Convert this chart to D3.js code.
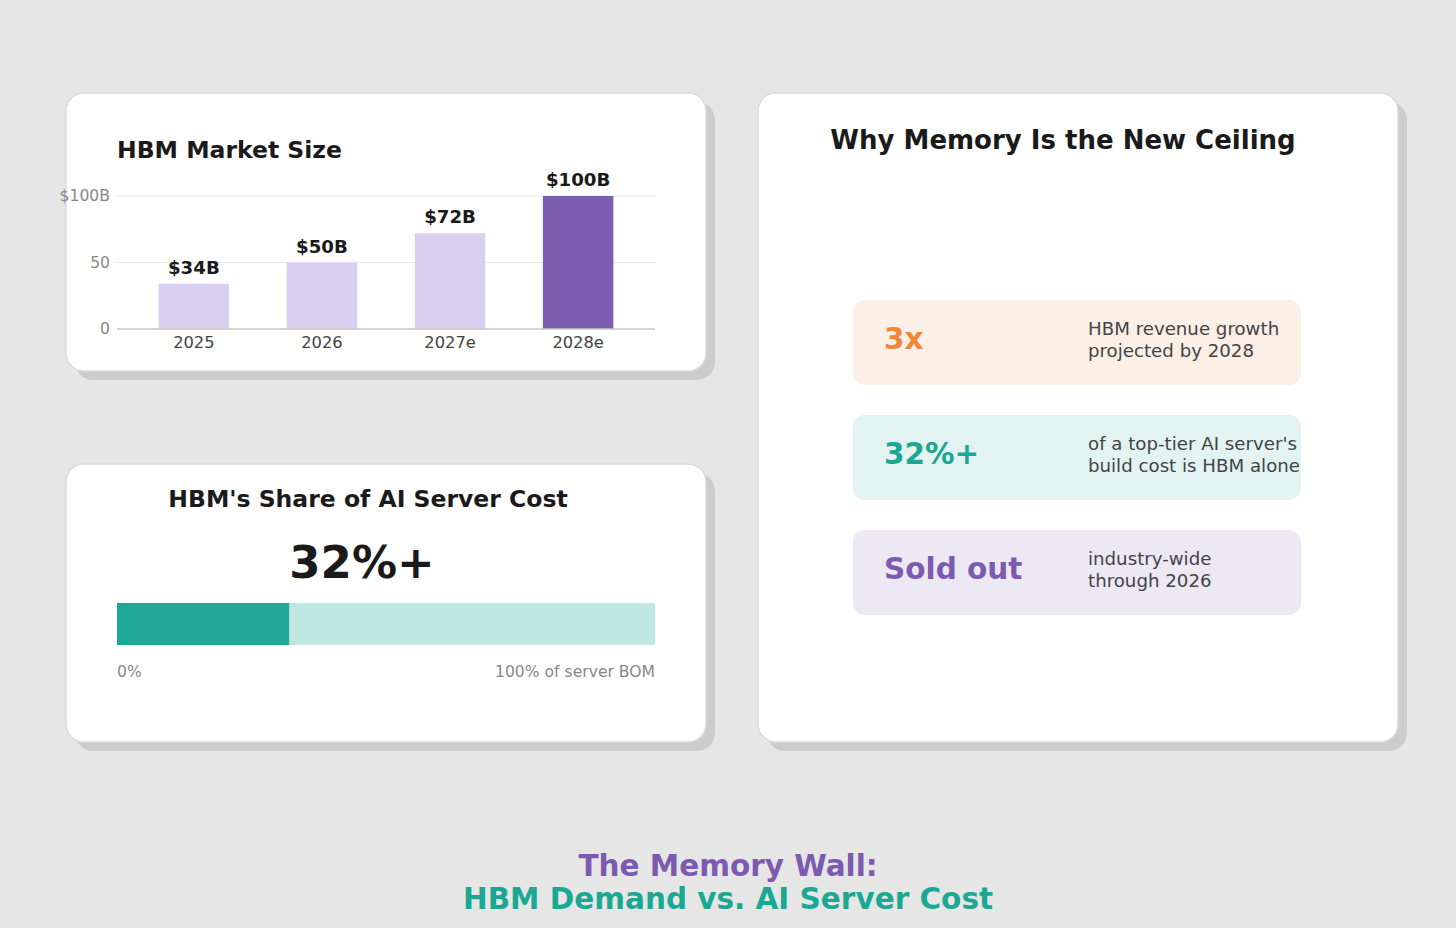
<!DOCTYPE html>
<html>
<head>
<meta charset="utf-8">
<script src="https://cdn.jsdelivr.net/npm/d3@7"></script>
<style>
  html, body { margin: 0; padding: 0; background: #e6e6e6; }
  svg { display: block; font-family: "DejaVu Sans", sans-serif; }
</style>
</head>
<body>
<svg id="chart" width="1456" height="928"></svg>
<script>
// market size chart
const years = ["2025", "2026", "2027e", "2028e"];
const marketSize = [34, 50, 72, 100];
const yTicks = [0, 50, 100];
const yTickLabels = ["0", "50", "$100B"];

// share of server cost
const hbmShare = 32;
const shareLabel = "32%+";
const shareEnds = ["0%", "100% of server BOM"];

// stat boxes
const statValues = ["3x", "32%+", "Sold out"];
const statLines = [
  ["HBM revenue growth", "projected by 2028"],
  ["of a top-tier AI server's", "build cost is HBM alone"],
  ["industry-wide", "through 2026"]
];

const purple = "#7b5eb0", lilac = "#d9cff0", teal = "#1ea895", tealLight = "#bfe8e2";
const statColors = ["#f0883a", "#1aa893", "#7b5aaf"];
const statBg = ["#fcefe6", "#e2f3f1", "#ece8f4"];

const svg = d3.select("#chart");

function card(x, y, w, h) {
  svg.append("rect").attr("x", x + 9).attr("y", y + 9).attr("width", w).attr("height", h)
    .attr("rx", 18).attr("fill", "#cccccc");
  svg.append("rect").attr("x", x).attr("y", y).attr("width", w).attr("height", h)
    .attr("rx", 18).attr("fill", "#fff").attr("stroke", "#dcdcdc").attr("stroke-width", 1.5);
}

card(66, 93, 640, 278);
card(66, 464, 640, 278);
card(758, 93, 640, 649);

// ---- HBM Market Size ----
const g1 = svg.append("g");
g1.append("text").attr("x", 117).attr("y", 158)
  .attr("font-size", 23.5).attr("font-weight", "bold").attr("fill", "#1a1a1a")
  .text("HBM Market Size");

const x = d3.scaleLinear().domain([-0.6, years.length - 0.4]).range([117, 655]);
const y = d3.scaleLinear().domain([0, 100]).range([329, 196]);
const barW = 0.55;

g1.selectAll(".grid").data(yTicks.filter(d => d > 0)).enter().append("line")
  .attr("x1", 117).attr("x2", 655)
  .attr("y1", d => y(d)).attr("y2", d => y(d))
  .attr("stroke", "#e8e8e8").attr("stroke-width", 1.2);

g1.selectAll(".bar").data(marketSize).enter().append("rect")
  .attr("x", (d, i) => x(i - barW / 2))
  .attr("width", x(barW) - x(0))
  .attr("y", d => y(d))
  .attr("height", d => y(0) - y(d))
  .attr("fill", (d, i) => i === marketSize.length - 1 ? purple : lilac);

g1.append("line").attr("x1", 117).attr("x2", 655).attr("y1", y(0)).attr("y2", y(0))
  .attr("stroke", "#c8c8c8").attr("stroke-width", 1.5);

g1.selectAll(".vlab").data(marketSize).enter().append("text")
  .attr("x", (d, i) => x(i)).attr("y", d => y(d) - 10)
  .attr("text-anchor", "middle").attr("font-size", 18.2).attr("font-weight", "bold")
  .attr("fill", "#1a1a1a")
  .text(d => `$${d}B`);

g1.selectAll(".ytl").data(yTicks).enter().append("text")
  .attr("x", 110).attr("y", d => y(d) + 5)
  .attr("text-anchor", "end").attr("font-size", 15.6).attr("fill", "#888")
  .text((d, i) => yTickLabels[i]);

g1.selectAll(".xtl").data(years).enter().append("text")
  .attr("x", (d, i) => x(i)).attr("y", 348)
  .attr("text-anchor", "middle").attr("font-size", 16.3).attr("fill", "#444")
  .text(d => d);

// ---- HBM's Share of AI Server Cost ----
const g2 = svg.append("g");
g2.append("text").attr("x", 368).attr("y", 507)
  .attr("text-anchor", "middle").attr("font-size", 23.5).attr("font-weight", "bold")
  .attr("fill", "#1a1a1a").text("HBM's Share of AI Server Cost");
g2.append("text").attr("x", 362).attr("y", 578)
  .attr("text-anchor", "middle").attr("font-size", 45).attr("font-weight", "bold")
  .attr("fill", "#1a1a1a").text(shareLabel);

const xs = d3.scaleLinear().domain([0, 100]).range([117, 655]);
g2.append("rect").attr("x", xs(0)).attr("y", 603).attr("width", xs(100) - xs(0)).attr("height", 42)
  .attr("fill", tealLight);
g2.append("rect").attr("x", xs(0)).attr("y", 603).attr("width", xs(hbmShare) - xs(0)).attr("height", 42)
  .attr("fill", teal);
g2.append("text").attr("x", xs(0)).attr("y", 677).attr("font-size", 15.6).attr("fill", "#888")
  .text(shareEnds[0]);
g2.append("text").attr("x", xs(100)).attr("y", 677).attr("text-anchor", "end")
  .attr("font-size", 15.6).attr("fill", "#888").text(shareEnds[1]);

// ---- Why Memory Is the New Ceiling ----
const g3 = svg.append("g");
g3.append("text").attr("x", 1063).attr("y", 149)
  .attr("text-anchor", "middle").attr("font-size", 26).attr("font-weight", "bold")
  .attr("fill", "#1a1a1a").text("Why Memory Is the New Ceiling");

const boxY = d3.scalePoint().domain(d3.range(statValues.length)).range([300, 530]);
const box = g3.selectAll(".stat").data(statValues).enter().append("g")
  .attr("transform", (d, i) => `translate(853,${boxY(i)})`);
box.append("rect").attr("width", 448).attr("height", 85).attr("rx", 12)
  .attr("fill", (d, i) => statBg[i]);
box.append("text").attr("x", 31).attr("y", 49)
  .attr("font-size", 29.5).attr("font-weight", "bold")
  .attr("fill", (d, i) => statColors[i]).text(d => d);
box.each(function(d, i) {
  d3.select(this).selectAll(".desc").data(statLines[i]).enter().append("text")
    .attr("x", 235).attr("y", (t, j) => 35 + j * 22)
    .attr("font-size", 18.2).attr("fill", "#444").text(t => t);
});

// ---- footer title ----
svg.append("text").attr("x", 728).attr("y", 876)
  .attr("text-anchor", "middle").attr("font-size", 29.5).attr("font-weight", "bold")
  .attr("fill", "#7b5aaf").text("The Memory Wall:");
svg.append("text").attr("x", 728).attr("y", 909)
  .attr("text-anchor", "middle").attr("font-size", 29.5).attr("font-weight", "bold")
  .attr("fill", "#1aa893").text("HBM Demand vs. AI Server Cost");
</script>
</body>
</html>
